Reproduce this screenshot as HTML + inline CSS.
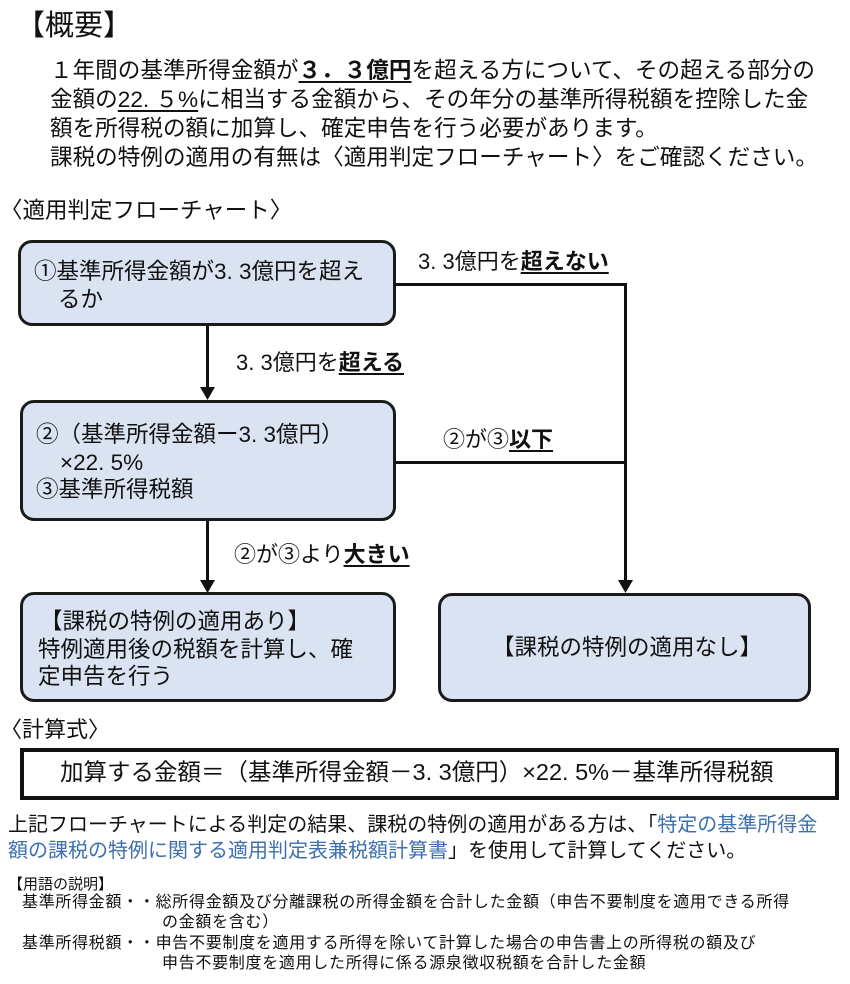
<!DOCTYPE html>
<html><head><meta charset="utf-8"><style>
body{margin:0;width:850px;height:984px;background:#fff;position:relative;overflow:hidden;font-family:"Liberation Sans","Noto Sans CJK JP",sans-serif;color:#111}
.t{position:absolute;white-space:nowrap;line-height:1}
.b{position:absolute;background:#dae3f2;border:3px solid #1a1a1a;border-radius:14px;box-sizing:border-box}
u{text-decoration:underline;text-underline-offset:3px}
.bl{color:#3d6fae}
.ln{position:absolute;background:#111}
</style></head><body>
<div class="t" style="left:16px;top:12px;font-size:29px">【概要】</div>
<div class="t" style="left:50px;top:60px;font-size:22.6px">１年間の基準所得金額が<b><u>３．３億円</u></b>を超える方について、その超える部分の</div>
<div class="t" style="left:50px;top:89px;font-size:22.6px">金額の<u>22. ５%</u>に相当する金額から、その年分の基準所得税額を控除した金</div>
<div class="t" style="left:50px;top:118px;font-size:22.6px">額を所得税の額に加算し、確定申告を行う必要があります。</div>
<div class="t" style="left:50px;top:147px;font-size:22.6px">課税の特例の適用の有無は〈適用判定フローチャート〉をご確認ください。</div>
<div class="t" style="left:0px;top:200px;font-size:22.5px">〈適用判定フローチャート〉</div>

<div class="b" style="left:18px;top:240px;width:378px;height:86px"></div>
<div class="t" style="left:34px;top:261px;font-size:22.5px">①基準所得金額が3. 3億円を超え</div>
<div class="t" style="left:58px;top:289px;font-size:22.5px">るか</div>

<div class="b" style="left:20px;top:400px;width:376px;height:121px"></div>
<div class="t" style="left:36px;top:424px;font-size:22.5px">②（基準所得金額ー3. 3億円）</div>
<div class="t" style="left:60px;top:452px;font-size:22.5px">×22. 5%</div>
<div class="t" style="left:36px;top:479px;font-size:22.5px">③基準所得税額</div>

<div class="b" style="left:20px;top:592px;width:376px;height:110px"></div>
<div class="t" style="left:40px;top:611px;font-size:22.5px">【課税の特例の適用あり】</div>
<div class="t" style="left:38px;top:639px;font-size:22.5px">特例適用後の税額を計算し、確</div>
<div class="t" style="left:38px;top:666px;font-size:22.5px">定申告を行う</div>

<div class="b" style="left:438px;top:593px;width:373px;height:109px"></div>
<div class="t" style="left:492px;top:637px;font-size:22.5px">【課税の特例の適用なし】</div>

<!-- connectors -->
<div class="ln" style="left:396px;top:283px;width:231px;height:3px"></div>
<div class="ln" style="left:624px;top:283px;width:3px;height:300px"></div>
<div class="ln" style="left:396px;top:461px;width:231px;height:3px"></div>
<div class="ln" style="left:206px;top:326px;width:3px;height:64px"></div>
<div class="ln" style="left:206px;top:521px;width:3px;height:62px"></div>
<svg style="position:absolute;left:0;top:0" width="850" height="984">
<polygon points="200,387 215,387 207.5,400" fill="#111"/>
<polygon points="200,580 215,580 207.5,593" fill="#111"/>
<polygon points="618,580 633,580 625.5,593" fill="#111"/>
</svg>
<div class="t" style="left:418px;top:251px;font-size:22px">3. 3億円を<b><u>超えない</u></b></div>
<div class="t" style="left:236px;top:352px;font-size:22px">3. 3億円を<b><u>超える</u></b></div>
<div class="t" style="left:443px;top:429px;font-size:22px">②が③<b><u>以下</u></b></div>
<div class="t" style="left:234px;top:544px;font-size:22px">②が③より<b><u>大きい</u></b></div>

<div class="t" style="left:0px;top:719px;font-size:22px">〈計算式〉</div>
<div style="position:absolute;left:20px;top:748px;width:819px;height:52px;border:4px solid #111;box-sizing:border-box"></div>
<div class="t" style="left:60px;top:761px;font-size:23.5px">加算する金額＝（基準所得金額－3. 3億円）×22. 5%－基準所得税額</div>

<div class="t" style="left:8px;top:815px;font-size:20px">上記フローチャートによる判定の結果、課税の特例の適用がある方は、「<span class="bl">特定の基準所得金</span></div>
<div class="t" style="left:8px;top:841px;font-size:20px"><span class="bl">額の課税の特例に関する適用判定表兼税額計算書</span>」を使用して計算してください。</div>
<div class="t" style="left:8px;top:877px;font-size:15px">【用語の説明】</div>
<div class="t" style="left:22px;top:895px;font-size:16px;letter-spacing:0.7px">基準所得金額・・総所得金額及び分離課税の所得金額を合計した金額（申告不要制度を適用できる所得</div>
<div class="t" style="left:162px;top:915px;font-size:16px;letter-spacing:0.7px">の金額を含む）</div>
<div class="t" style="left:22px;top:936px;font-size:16px;letter-spacing:0.7px">基準所得税額・・申告不要制度を適用する所得を除いて計算した場合の申告書上の所得税の額及び</div>
<div class="t" style="left:162px;top:956px;font-size:16px;letter-spacing:0.7px">申告不要制度を適用した所得に係る源泉徴収税額を合計した金額</div>
</body></html>
